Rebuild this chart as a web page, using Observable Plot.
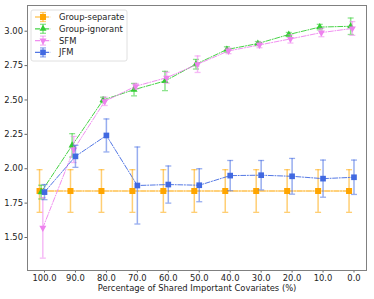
<!DOCTYPE html>
<html><head><meta charset="utf-8">
<script src="https://cdn.jsdelivr.net/npm/d3@7"></script>
<script src="https://cdn.jsdelivr.net/npm/@observablehq/plot@0.6"></script>
<style>
body{margin:0;background:#fff;}
#wrap{position:relative;width:374px;height:299px;font-family:"DejaVu Sans",sans-serif;}
#legend{position:absolute;left:0;top:0;}
</style>
</head><body><div id="wrap"></div>
<script>
const xLabel = "Percentage of Shared Important Covariates (%)";
const percents = [100, 90, 80, 70, 60, 50, 40, 30, 20, 10, 0];
const xTicks = [100, 90, 80, 70, 60, 50, 40, 30, 20, 10, 0];
const yTicks = [1.50, 1.75, 2.00, 2.25, 2.50, 2.75, 3.00];
const seriesNames = ["Group-separate", "Group-ignorant", "SFM", "JFM"];
const sepMean = [1.838, 1.838, 1.838, 1.838, 1.838, 1.838, 1.838, 1.838, 1.838, 1.838, 1.838];
const sepErr  = [0.155, 0.155, 0.155, 0.155, 0.155, 0.155, 0.155, 0.155, 0.155, 0.155, 0.155];
const ignMean = [1.83, 2.17, 2.50, 2.575, 2.638, 2.76, 2.867, 2.91, 2.976, 3.03, 3.036];
const ignErr  = [0.05, 0.085, 0.02, 0.045, 0.07, 0.035, 0.02, 0.015, 0.015, 0.02, 0.06];
const sfmMean = [1.57, 2.14, 2.49, 2.60, 2.662, 2.76, 2.857, 2.90, 2.944, 2.99, 3.02];
const sfmErr  = [0.22, 0.095, 0.03, 0.02, 0.04, 0.06, 0.02, 0.02, 0.03, 0.03, 0.05];
const jfmMean = [1.83, 2.09, 2.242, 1.878, 1.885, 1.88, 1.95, 1.953, 1.945, 1.928, 1.938];
const jfmErr  = [0.055, 0.08, 0.12, 0.28, 0.135, 0.12, 0.11, 0.107, 0.13, 0.135, 0.125];

const colors = ["#ffa500", "#32cd32", "#ee82ee", "#4169e1"];
const offsets = [1.6, 1.07, 0.54, 0]; // horizontal dodge in x units

const triDown = {draw(ctx, size){ const y = -Math.sqrt(size/(3*Math.sqrt(3))); ctx.moveTo(0,-2*y); ctx.lineTo(-Math.sqrt(3)*y, y); ctx.lineTo(Math.sqrt(3)*y, y); ctx.closePath(); }};
const cap = {draw(ctx, size){ const w = Math.sqrt(size/Math.PI); ctx.moveTo(-w,0); ctx.lineTo(w,0); }};
const symbols = ["square", "triangle", triDown, "square"];
const radii = [3.4, 2.6, 2.6, 3.2];

const means = [sepMean, ignMean, sfmMean, jfmMean];
const errs = [sepErr, ignErr, sfmErr, jfmErr];
const series = seriesNames.map((name, s) => percents.map((p, i) => ({
  name, x: p + offsets[s], y: means[s][i], lo: means[s][i] - errs[s][i], hi: means[s][i] + errs[s][i]
})));

const marks = [];
series.forEach((d, s) => {
  const c = colors[s];
  marks.push(Plot.line(d, {x: "x", y: "y", stroke: c, strokeWidth: s === 0 ? 1.6 : 1, strokeOpacity: s === 0 ? 0.7 : 0.9, strokeDasharray: "5,1.6,1,1.6"}));
  marks.push(Plot.ruleX(d, {x: "x", y1: "lo", y2: "hi", stroke: c, strokeOpacity: 0.55, strokeWidth: 1.5}));
  marks.push(Plot.dot(d, {x: "x", y: "lo", symbol: cap, r: 3, stroke: c, strokeOpacity: 0.55, strokeWidth: 1.3, fill: "none"}));
  marks.push(Plot.dot(d, {x: "x", y: "hi", symbol: cap, r: 3, stroke: c, strokeOpacity: 0.55, strokeWidth: 1.3, fill: "none"}));
  marks.push(Plot.dot(d, {x: "x", y: "y", symbol: symbols[s], r: radii[s], fill: c, stroke: "none"}));
});

const chart = Plot.plot({
  width: 374, height: 299,
  marginLeft: 27, marginRight: 8, marginTop: 5, marginBottom: 29,
  style: {fontFamily: "DejaVu Sans", fontSize: "8.4px", color: "#222", background: "#fff"},
  x: {domain: [105.49, -4.04]},
  y: {domain: [1.26, 3.187]},
  marks: [
    Plot.axisX({ticks: xTicks, tickFormat: d3.format(".1f"), tickSize: 2.5, tickPadding: 2, stroke: "#666", label: null, fontSize: 8.4, fill: "#222"}),
    Plot.axisY({ticks: yTicks, tickFormat: d3.format(".2f"), tickSize: 2.5, tickPadding: 2, stroke: "#666", label: null, fontSize: 8.4, fill: "#222"}),
    Plot.text([xLabel], {frameAnchor: "bottom", lineAnchor: "middle", dy: 17.5, fontSize: 8.4, fill: "#222", text: d => d}),
    ...marks,
    Plot.frame({stroke: "#808080", strokeWidth: 1})
  ]
});
const wrap = document.getElementById("wrap");
wrap.appendChild(chart);

// legend overlay (inside the axes, upper left)
const lg = d3.select(wrap).append("svg").attr("id", "legend").attr("width", 374).attr("height", 299);
const lx = 31, ly = 10, lw = 96, lh = 51;
lg.append("rect").attr("x", lx).attr("y", ly).attr("width", lw).attr("height", lh).attr("rx", 2)
  .attr("fill", "#fff").attr("fill-opacity", 0.8).attr("stroke", "#d8d8d8").attr("stroke-width", 0.8);
seriesNames.forEach((name, s) => {
  const cy = ly + 7 + s * 11.8, cx = lx + 12, c = colors[s];
  const g = lg.append("g");
  g.append("line").attr("x1", cx - 8).attr("x2", cx + 8).attr("y1", cy).attr("y2", cy).attr("stroke", c).attr("stroke-width", 1.2).attr("stroke-dasharray", "5,1.6,1,1.6").attr("stroke-opacity", 0.9);
  g.append("line").attr("x1", cx).attr("x2", cx).attr("y1", cy - 4.5).attr("y2", cy + 4.5).attr("stroke", c).attr("stroke-opacity", 0.55).attr("stroke-width", 1.5);
  [cy - 4.5, cy + 4.5].forEach(yy => g.append("line").attr("x1", cx - 3).attr("x2", cx + 3).attr("y1", yy).attr("y2", yy).attr("stroke", c).attr("stroke-opacity", 0.55).attr("stroke-width", 1.3));
  const sym = typeof symbols[s] === "string" ? (symbols[s] === "square" ? d3.symbolSquare : d3.symbolTriangle) : symbols[s];
  g.append("path").attr("transform", `translate(${cx},${cy})`).attr("d", d3.symbol(sym, Math.PI * radii[s] * radii[s])()).attr("fill", c);
  lg.append("text").attr("x", lx + 28).attr("y", cy).attr("dy", "0.35em").attr("font-size", 8.4).attr("font-family", "DejaVu Sans").attr("fill", "#222").text(name);
});
</script></body></html>
